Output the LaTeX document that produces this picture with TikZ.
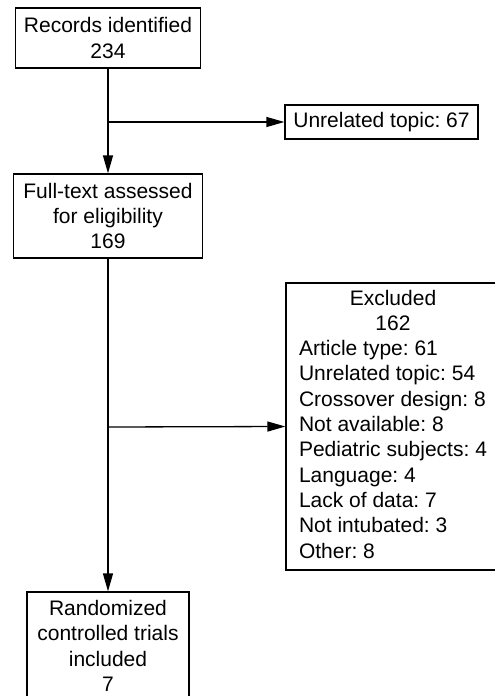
\documentclass[tikz,border=0pt]{standalone}
\usepackage{fontspec}
\setmainfont{Liberation Sans}
\frenchspacing
\usetikzlibrary{arrows.meta}
\begin{document}
\begin{tikzpicture}[x=1pt,y=-1pt,
  box/.style={draw, line width=1.3pt, inner sep=0pt, align=center,
    font=\fontsize{21}{25.3}\selectfont\frenchspacing},
  arr/.style={line width=1.3pt, -{Triangle[length=18pt,width=10pt]}}]
\useasboundingbox (0,0) rectangle (495,696);
\clip (0,0) rectangle (495,696);
\node[box, minimum width=224pt, minimum height=287pt] (excl) at (398,426.5)
  {\begin{tabular}{@{}l@{\hspace{10pt}}}
   \multicolumn{1}{@{}c@{\hspace{10pt}}}{Excluded}\\
   \multicolumn{1}{@{}c@{\hspace{10pt}}}{162}\\
   Article type: 61\\
   Unrelated topic: 54\\
   Crossover design: 8\\
   Not available: 8\\
   Pediatric subjects: 4\\
   Language: 4\\
   Lack of data: 7\\
   Not intubated: 3\\
   Other: 8
   \end{tabular}};
\node[box, minimum width=185pt, minimum height=60pt] (rec) at (108,38) {Records identified\\234};
\node[box, minimum width=189pt, minimum height=84pt] (full) at (108,216) {Full-text assessed\\for eligibility\\169};
\node[box, minimum width=193pt, minimum height=34pt] (unrel) at (381.5,122) {Unrelated topic: 67};
\node[box, minimum width=162pt, minimum height=108pt] (rct) at (108,646) {Randomized\\controlled trials\\included\\7};
\coordinate (b1) at (108,122);
\coordinate (b2) at (108,427);
\draw[arr] (rec.south) -- (full.north);
\draw[arr] (b1) -- (unrel.west);
\draw[arr] (full.south) -- (rct.north);
\draw[arr] (b2) -- (excl.west);
\end{tikzpicture}
\end{document}
